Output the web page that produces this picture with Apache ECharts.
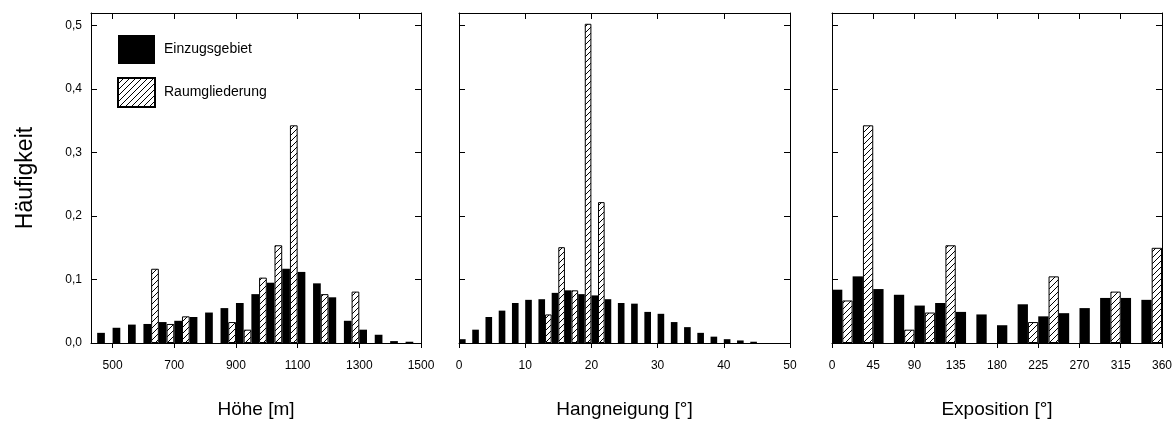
<!DOCTYPE html>
<html>
<head>
<meta charset="utf-8">
<script src="https://cdn.jsdelivr.net/npm/echarts@6/dist/echarts.min.js"></script>
<style>
html, body { margin: 0; padding: 0; background: #fff; }
#chartDiv { width: 1175px; height: 427px; }
</style>
</head>
<body>
<div id="chartDiv"></div>
<script>
// Höhe: 50 m classes, left edge of each class
var hoeheStart = [450, 500, 550, 600, 650, 700, 750, 800, 850, 900, 950, 1000, 1050, 1100, 1150, 1200, 1250, 1300, 1350, 1400, 1450];
var hoeheEinzug = [0.016, 0.024, 0.029, 0.030, 0.033, 0.035, 0.041, 0.048, 0.055, 0.063, 0.077, 0.095, 0.117, 0.112, 0.094, 0.072, 0.035, 0.021, 0.013, 0.003, 0.002];
var hoeheRaum = [0, 0, 0, 0.117, 0.030, 0.042, 0, 0, 0.033, 0.021, 0.103, 0.154, 0.343, 0, 0.077, 0, 0.081, 0, 0, 0, 0];

// Hangneigung: 2° classes
var hangStart = [0, 2, 4, 6, 8, 10, 12, 14, 16, 18, 20, 22, 24, 26, 28, 30, 32, 34, 36, 38, 40, 42, 44];
var hangEinzug = [0.006, 0.021, 0.041, 0.051, 0.063, 0.068, 0.069, 0.079, 0.083, 0.077, 0.075, 0.069, 0.063, 0.062, 0.049, 0.046, 0.033, 0.025, 0.016, 0.010, 0.006, 0.004, 0.002];
var hangRaum = [0, 0, 0, 0, 0, 0, 0.045, 0.151, 0.083, 0.503, 0.222, 0, 0, 0, 0, 0, 0, 0, 0, 0, 0, 0, 0];

// Exposition: 22.5° classes
var expoStart = [0, 22.5, 45, 67.5, 90, 112.5, 135, 157.5, 180, 202.5, 225, 247.5, 270, 292.5, 315, 337.5];
var expoEinzug = [0.084, 0.105, 0.085, 0.076, 0.059, 0.063, 0.049, 0.045, 0.028, 0.061, 0.042, 0.047, 0.055, 0.071, 0.071, 0.068];
var expoRaum = [0.067, 0.343, 0, 0.021, 0.048, 0.154, 0, 0, 0, 0.033, 0.105, 0, 0, 0.081, 0, 0.150];

var hoeheTicks = [500, 700, 900, 1100, 1300, 1500];

var myChart = echarts.init(document.getElementById('chartDiv'));

// hatch fill "/"
function makeHatch() {
    var c = document.createElement('canvas');
    c.width = 6;
    c.height = 6;
    var ctx = c.getContext('2d');
    ctx.fillStyle = '#fff';
    ctx.fillRect(0, 0, 6, 6);
    ctx.strokeStyle = '#000';
    ctx.lineWidth = 1;
    ctx.beginPath();
    ctx.moveTo(0, 6); ctx.lineTo(6, 0);
    ctx.moveTo(-1, 1); ctx.lineTo(1, -1);
    ctx.moveTo(5, 7); ctx.lineTo(7, 5);
    ctx.stroke();
    return c;
}
var hatch = {image: makeHatch(), repeat: 'repeat'};

function toPairs(starts, values, width) {
    var out = [];
    for (var i = 0; i < starts.length; i++) {
        out.push([starts[i] + width / 2, values[i] > 0 ? values[i] : '-']);
    }
    return out;
}

var fontName = 'Liberation Sans';
var lineStyle = {color: '#000', width: 1};

function bottomAxis(grid, min, max, interval, name, custom) {
    var ax = {
        type: 'value', gridIndex: grid, position: 'bottom', min: min, max: max,
        name: name, nameLocation: 'middle', nameGap: 57,
        nameTextStyle: {fontSize: 19, color: '#000', fontFamily: fontName},
        axisLine: {show: true, onZero: false, lineStyle: lineStyle},
        axisTick: {show: true, inside: false, length: 5, lineStyle: lineStyle},
        axisLabel: {
            fontSize: 12, color: '#000', margin: 17, fontFamily: fontName,
            formatter: function (v) { return String(v); }
        },
        splitLine: {show: false}
    };
    if (custom) {
        ax.axisTick.customValues = custom;
        ax.axisLabel.customValues = custom;
    } else {
        ax.interval = interval;
    }
    return ax;
}

function topAxis(grid, min, max, interval, custom) {
    var ax = {
        type: 'value', gridIndex: grid, position: 'top', min: min, max: max,
        axisLine: {show: true, onZero: false, lineStyle: lineStyle},
        axisTick: {show: true, inside: true, length: 6, lineStyle: lineStyle},
        axisLabel: {show: false},
        splitLine: {show: false}
    };
    if (custom) {
        ax.axisTick.customValues = custom;
    } else {
        ax.interval = interval;
    }
    return ax;
}

function yAxis(grid, pos, labels) {
    var ax = {
        type: 'value', gridIndex: grid, position: pos, min: 0, max: 0.52, interval: 0.1,
        axisLine: {show: true, onZero: false, lineStyle: lineStyle},
        axisTick: {show: true, inside: true, length: 6, lineStyle: lineStyle},
        axisLabel: {
            show: labels, fontSize: 12, color: '#000', margin: 9, fontFamily: fontName,
            showMaxLabel: false,
            formatter: function (v) { return v.toFixed(1).replace('.', ','); }
        },
        splitLine: {show: false}
    };
    if (labels) {
        ax.name = 'Häufigkeit';
        ax.nameLocation = 'middle';
        ax.nameGap = 54;
        ax.nameTextStyle = {fontSize: 23, color: '#000', fontFamily: fontName};
    }
    return ax;
}

function barPair(idx, starts, einzug, raum, width) {
    return [{
        name: 'Einzugsgebiet', type: 'bar', xAxisIndex: idx * 2, yAxisIndex: idx * 2,
        data: toPairs(starts, einzug, width),
        barGap: '0%', barCategoryGap: '0%',
        itemStyle: {color: '#000'}
    }, {
        name: 'Raumgliederung', type: 'bar', xAxisIndex: idx * 2, yAxisIndex: idx * 2,
        data: toPairs(starts, raum, width),
        barGap: '0%', barCategoryGap: '0%',
        itemStyle: {color: hatch, borderColor: '#000', borderWidth: 1}
    }];
}

var option = {
    animation: false,
    textStyle: {fontFamily: fontName},
    legend: {
        orient: 'vertical', left: 117, top: 35, padding: 0,
        itemWidth: 37, itemHeight: 29, itemGap: 13,
        icon: 'rect',
        textStyle: {fontSize: 14, color: '#000', fontFamily: fontName, padding: [0, 0, 0, 4]},
        data: ['Einzugsgebiet', 'Raumgliederung']
    },
    grid: [
        {left: 91, top: 13, width: 330, height: 330},
        {left: 459, top: 13, width: 331, height: 330},
        {left: 832, top: 13, width: 330, height: 330}
    ],
    xAxis: [
        bottomAxis(0, 430, 1500, null, 'Höhe [m]', hoeheTicks),
        topAxis(0, 430, 1500, null, hoeheTicks),
        bottomAxis(1, 0, 50, 10, 'Hangneigung [°]'),
        topAxis(1, 0, 50, 10),
        bottomAxis(2, 0, 360, 45, 'Exposition [°]'),
        topAxis(2, 0, 360, 45)
    ],
    yAxis: [
        yAxis(0, 'left', true), yAxis(0, 'right', false),
        yAxis(1, 'left', false), yAxis(1, 'right', false),
        yAxis(2, 'left', false), yAxis(2, 'right', false)
    ],
    series: [].concat(
        barPair(0, hoeheStart, hoeheEinzug, hoeheRaum, 50),
        barPair(1, hangStart, hangEinzug, hangRaum, 2),
        barPair(2, expoStart, expoEinzug, expoRaum, 22.5)
    )
};
myChart.setOption(option);
window.onresize = myChart.resize;
</script>
</body>
</html>
